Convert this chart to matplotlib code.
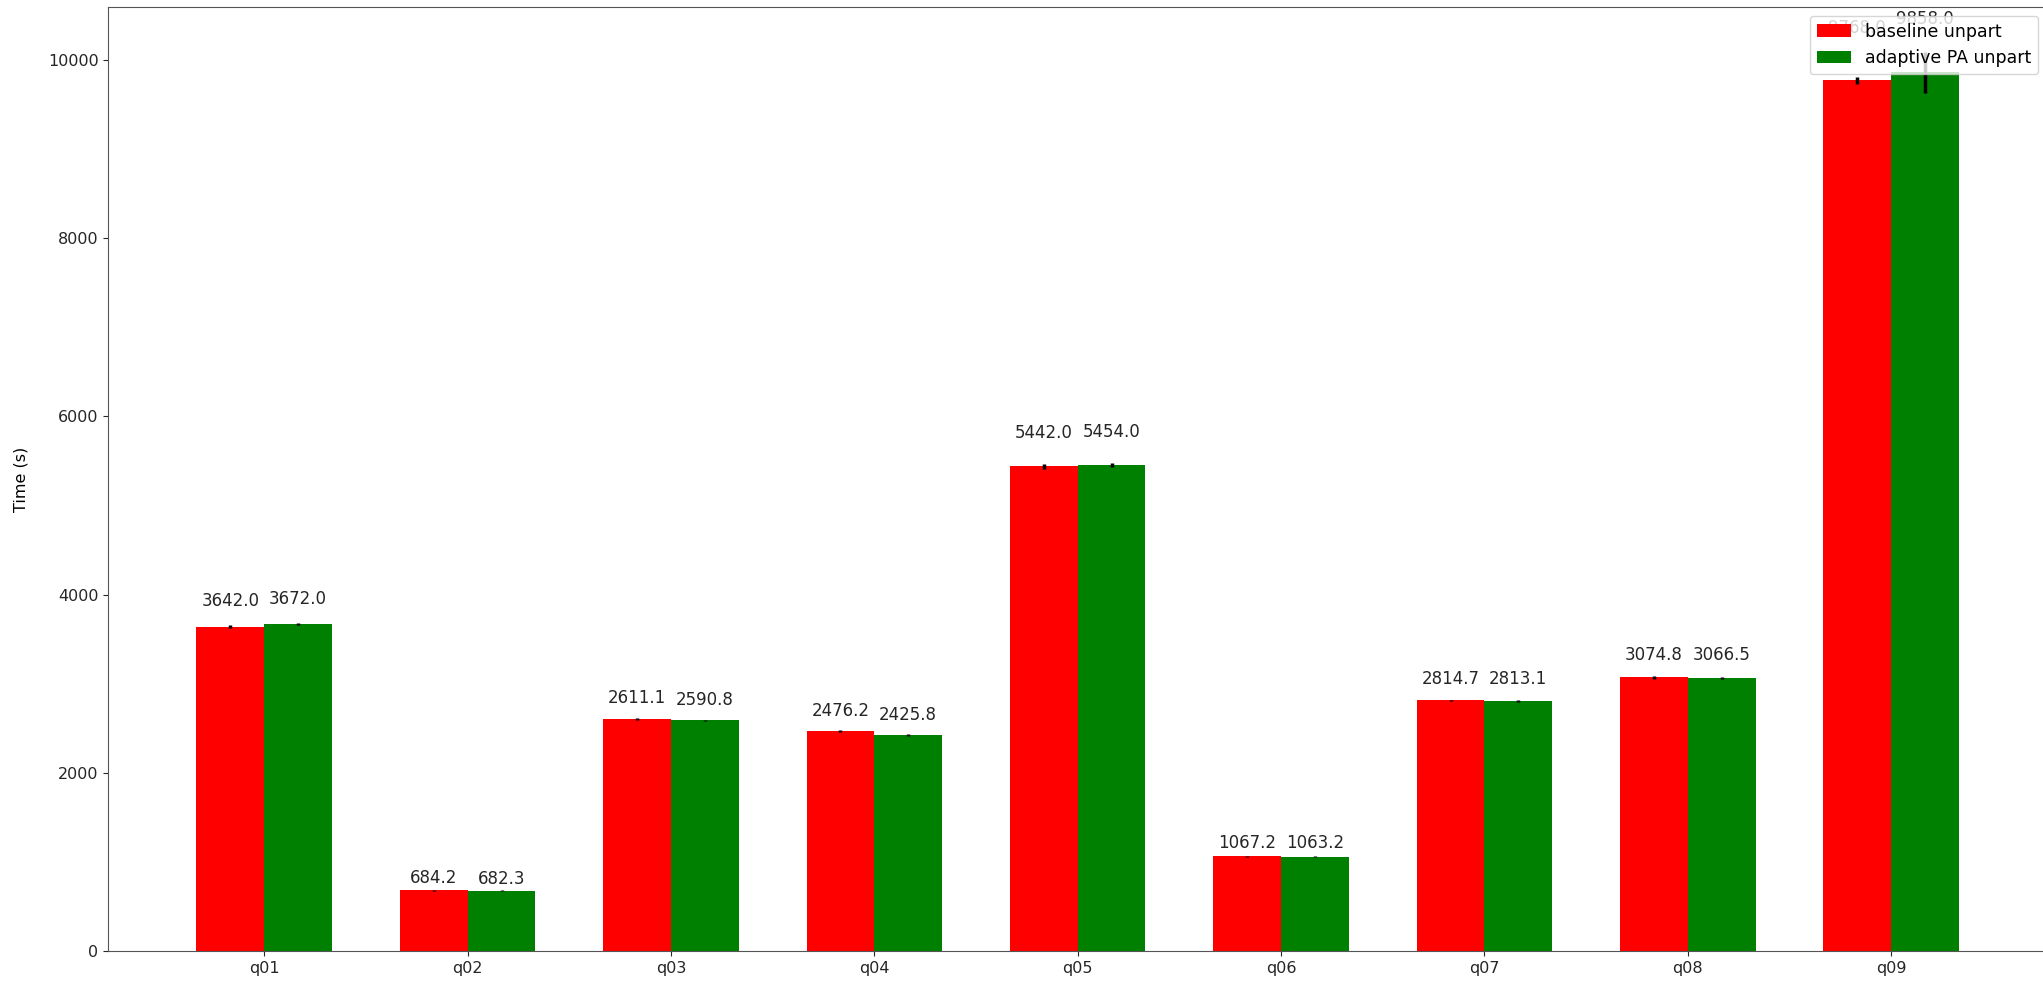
import numpy as np
import matplotlib.pyplot as plt

queries = ["q01", "q02", "q03", "q04", "q05", "q06", "q07", "q08", "q09"]
baseline = [3642.0, 684.2, 2611.1, 2476.2, 5442.0, 1067.2, 2814.7, 3074.8, 9768.0]
adaptive = [3672.0, 682.3, 2590.8, 2425.8, 5454.0, 1063.2, 2813.1, 3066.5, 9858.0]
baseline_err = [20, 8, 10, 12, 30, 8, 10, 15, 40]
adaptive_err = [10, 8, 10, 10, 25, 8, 10, 15, 230]

x = np.arange(len(queries))
width = 1 / 3

fig = plt.figure(figsize=(20.43, 9.86), dpi=100)
ax = fig.add_axes([0.053, 0.035, 0.949, 0.958])

b1 = ax.bar(x - width / 2, baseline, width, yerr=baseline_err, color="red",
            label="baseline unpart", error_kw=dict(elinewidth=2.5, ecolor="black"))
b2 = ax.bar(x + width / 2, adaptive, width, yerr=adaptive_err, color="green",
            label="adaptive PA unpart", error_kw=dict(elinewidth=2.5, ecolor="black"))

# value labels sit a little above each bar
for bars in (b1, b2):
    for rect in bars:
        h = rect.get_height()
        ax.text(rect.get_x() + rect.get_width() / 2, 1.05 * h, f"{h:.1f}",
                ha="center", va="bottom", fontsize=12, color="#262626")

ax.set_xticks(x)
ax.set_xticklabels(queries)
ax.tick_params(labelsize=11.5, colors="#262626")
ax.set_ylabel("Time (s)", fontsize=11.5, labelpad=14)
ax.set_xlim(-0.767, 8.767)
for s in ax.spines.values():
    s.set_color("#555555")
ax.legend(loc="upper right", fontsize=12.5)

fig.savefig("out.png", dpi=100)
